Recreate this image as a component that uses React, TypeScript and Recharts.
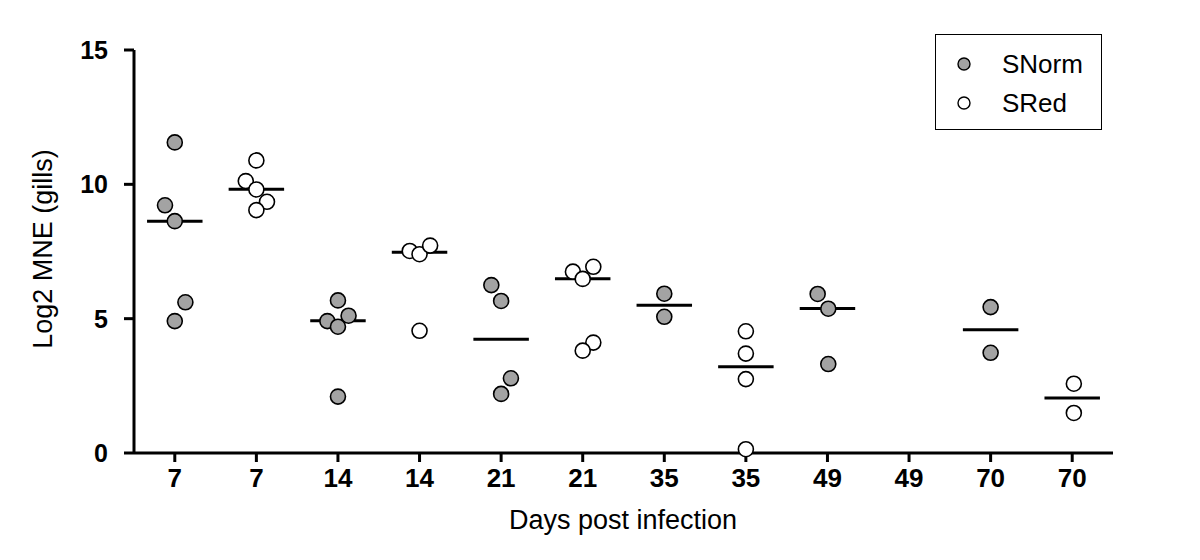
import { ScatterChart, Scatter, XAxis, YAxis, ReferenceLine } from "recharts";

const categories = ["7", "7", "14", "14", "21", "21", "35", "35", "49", "49", "70", "70"];
const yTicks = [0, 5, 10, 15];

// cat = category index, dx = horizontal jitter inside the category
const snormPoints = [
  { cat: 0, dx: 0, y: 11.56 },
  { cat: 0, dx: -0.12, y: 9.22 },
  { cat: 0, dx: 0, y: 8.63 },
  { cat: 0, dx: 0.13, y: 5.61 },
  { cat: 0, dx: 0, y: 4.91 },
  { cat: 2, dx: 0, y: 5.68 },
  { cat: 2, dx: 0.13, y: 5.11 },
  { cat: 2, dx: -0.13, y: 4.91 },
  { cat: 2, dx: 0, y: 4.7 },
  { cat: 2, dx: 0, y: 2.1 },
  { cat: 4, dx: -0.12, y: 6.25 },
  { cat: 4, dx: 0, y: 5.66 },
  { cat: 4, dx: 0.12, y: 2.78 },
  { cat: 4, dx: 0, y: 2.2 },
  { cat: 6, dx: 0, y: 5.93 },
  { cat: 6, dx: 0, y: 5.07 },
  { cat: 8, dx: -0.12, y: 5.92 },
  { cat: 8, dx: 0.01, y: 5.37 },
  { cat: 8, dx: 0.01, y: 3.31 },
  { cat: 10, dx: 0, y: 5.43 },
  { cat: 10, dx: 0, y: 3.73 },
];

const sredPoints = [
  { cat: 1, dx: 0, y: 10.89 },
  { cat: 1, dx: -0.13, y: 10.12 },
  { cat: 1, dx: 0, y: 9.81 },
  { cat: 1, dx: 0.13, y: 9.35 },
  { cat: 1, dx: 0, y: 9.04 },
  { cat: 3, dx: -0.12, y: 7.52 },
  { cat: 3, dx: 0, y: 7.4 },
  { cat: 3, dx: 0.13, y: 7.72 },
  { cat: 3, dx: 0, y: 4.55 },
  { cat: 5, dx: -0.12, y: 6.75 },
  { cat: 5, dx: 0.13, y: 6.93 },
  { cat: 5, dx: 0, y: 6.48 },
  { cat: 5, dx: 0.13, y: 4.11 },
  { cat: 5, dx: 0, y: 3.81 },
  { cat: 7, dx: 0, y: 4.53 },
  { cat: 7, dx: 0, y: 3.7 },
  { cat: 7, dx: 0, y: 2.75 },
  { cat: 7, dx: 0, y: 0.14 },
  { cat: 11, dx: 0.02, y: 2.58 },
  { cat: 11, dx: 0.02, y: 1.49 },
];

const medians = [
  { cat: 0, y: 8.63 },
  { cat: 1, y: 9.82 },
  { cat: 2, y: 4.92 },
  { cat: 3, y: 7.47 },
  { cat: 4, y: 4.23 },
  { cat: 5, y: 6.49 },
  { cat: 6, y: 5.5 },
  { cat: 7, y: 3.21 },
  { cat: 8, y: 5.38 },
  { cat: 10, y: 4.59 },
  { cat: 11, y: 2.05 },
];

const FONT = "Arial, 'Liberation Sans', sans-serif";
const GREY = "#a3a3a3";

const toXY = (pts: { cat: number; dx: number; y: number }[]) =>
  pts.map((p) => ({ x: p.cat + p.dx, y: p.y }));

const dot = (fill: string) => (props: any) => (
  <circle cx={props.cx} cy={props.cy} r={7.5} fill={fill} stroke="#000" strokeWidth={1.6} />
);

const YLabel = () => (
  <text
    x={35}
    y={241}
    transform="rotate(-90, 35, 241)"
    textAnchor="middle"
    dominantBaseline="central"
    fontFamily={FONT}
    fontSize={27}
    fill="#000"
  >
    Log2 MNE (gills)
  </text>
);

const XLabel = () => (
  <text x={615} y={512} textAnchor="middle" dominantBaseline="central" fontFamily={FONT} fontSize={27} fill="#000">
    Days post infection
  </text>
);

const LegendBox = () => (
  <div
    style={{
      position: "absolute",
      left: 927,
      top: 26,
      width: 167,
      height: 96,
      border: "1.5px solid #000",
      background: "#fff",
      fontFamily: FONT,
      fontSize: 26,
      boxSizing: "border-box",
    }}
  >
    {[
      { name: "SNorm", fill: GREY, top: 29 },
      { name: "SRed", fill: "#fff", top: 68 },
    ].map((it) => (
      <div key={it.name}>
        <svg width={14} height={14} style={{ position: "absolute", left: 21, top: it.top - 7 }}>
          <circle cx={7} cy={7} r={6} fill={it.fill} stroke="#000" strokeWidth={1.4} />
        </svg>
        <span style={{ position: "absolute", left: 66, top: it.top - 15, lineHeight: "30px" }}>{it.name}</span>
      </div>
    ))}
  </div>
);

export default function App() {
  return (
    <div style={{ position: "relative", width: 1184, height: 544 }}>
      <ScatterChart width={1184} height={544} margin={{ top: 42, right: 79, bottom: 20, left: 46 }}>
        <XAxis
          type="number"
          dataKey="x"
          domain={[-0.5, 11.5]}
          ticks={categories.map((_, i) => i)}
          tickFormatter={(v: number) => categories[v]}
          interval={0}
          allowDataOverflow
          height={79}
          axisLine={{ stroke: "#000", strokeWidth: 3 }}
          tickLine={{ stroke: "#000", strokeWidth: 3 }}
          tickSize={9}
          tickMargin={7}
          tick={{ fill: "#000", fontSize: 26, fontWeight: "bold", fontFamily: FONT }}
          label={<XLabel />}
        />
        <YAxis
          type="number"
          dataKey="y"
          domain={[0, 15]}
          ticks={yTicks}
          width={80}
          axisLine={{ stroke: "#000", strokeWidth: 3 }}
          tickLine={{ stroke: "#000", strokeWidth: 3 }}
          tickSize={10}
          tickMargin={16}
          tick={{ fill: "#000", fontSize: 25, fontWeight: "bold", fontFamily: FONT }}
          label={<YLabel />}
        />
        {medians.map((m) => (
          <ReferenceLine
            key={m.cat}
            segment={[
              { x: m.cat - 0.34, y: m.y },
              { x: m.cat + 0.34, y: m.y },
            ]}
            stroke="#000"
            strokeWidth={3}
          />
        ))}
        <Scatter name="SNorm" data={toXY(snormPoints)} shape={dot(GREY)} isAnimationActive={false} />
        <Scatter name="SRed" data={toXY(sredPoints)} shape={dot("#fff")} isAnimationActive={false} />
      </ScatterChart>
      <LegendBox />
    </div>
  );
}
